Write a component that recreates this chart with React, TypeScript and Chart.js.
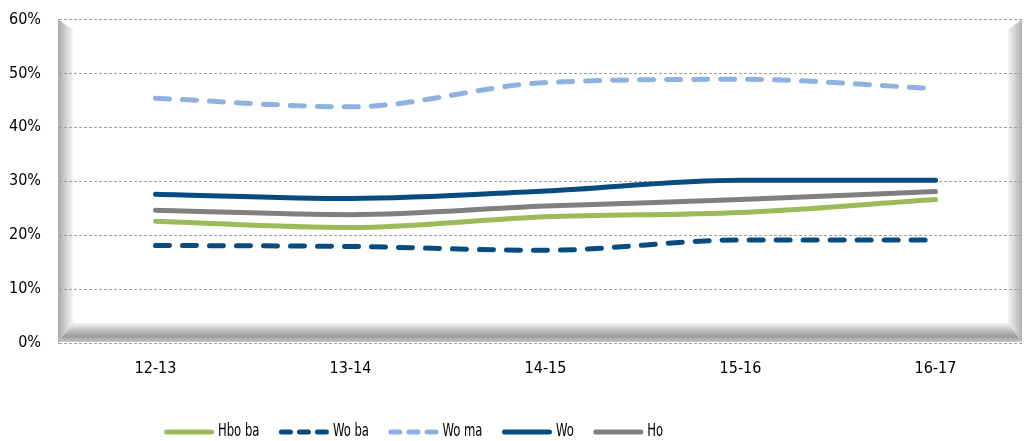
import React, { useEffect, useRef } from 'react';
import { Chart, registerables } from 'chart.js';

Chart.register(...registerables);

const categories = ['12-13', '13-14', '14-15', '15-16', '16-17'];
const hboBa = [22.6, 21.4, 23.4, 24.2, 26.6];
const woBa = [18.1, 17.9, 17.2, 19.1, 19.1];
const woMa = [45.4, 43.8, 48.3, 48.9, 47.2];
const wo = [27.6, 26.8, 28.2, 30.2, 30.2];
const ho = [24.6, 23.8, 25.4, 26.6, 28.1];
const yTicks = [0, 10, 20, 30, 40, 50, 60];
const seriesNames = ['Hbo ba', 'Wo ba', 'Wo ma', 'Wo', 'Ho'];

const AXIS_FONT = '"DejaVu Sans Condensed", "DejaVu Sans", sans-serif';
const LEGEND_FONT = '"DejaVu Sans Condensed", "DejaVu Sans", sans-serif';

const GREEN = '#9BBB59';
const DARK = '#064C80';
const LIGHT = '#8EB2DF';
const GRAY = '#7F7F7F';

const framePlugin = {
  id: 'frame',
  beforeDraw(chart: any) {
    const { ctx, chartArea } = chart;
    const x0 = chartArea.left;
    const x1 = chartArea.left + 964;
    const y0 = chartArea.top;
    const y1 = chartArea.bottom - 1;
    const bl = 15;
    const br = 14;
    const bb = 19;
    const bt = 10;
    ctx.save();
    let g = ctx.createLinearGradient(x0, 0, x0 + bl, 0);
    g.addColorStop(0, '#a9a9a9');
    g.addColorStop(0.35, '#c4c4c4');
    g.addColorStop(1, '#f4f4f4');
    ctx.fillStyle = g;
    ctx.beginPath();
    ctx.moveTo(x0, y0);
    ctx.lineTo(x0 + bl, y0 + bt);
    ctx.lineTo(x0 + bl, y1 - bb);
    ctx.lineTo(x0, y1);
    ctx.closePath();
    ctx.fill();
    g = ctx.createLinearGradient(x1 - br, 0, x1, 0);
    g.addColorStop(0, '#f4f4f4');
    g.addColorStop(0.65, '#c8c8c8');
    g.addColorStop(1, '#b0b0b0');
    ctx.fillStyle = g;
    ctx.beginPath();
    ctx.moveTo(x1, y0);
    ctx.lineTo(x1, y1);
    ctx.lineTo(x1 - br, y1 - bb);
    ctx.lineTo(x1 - br, y0 + bt);
    ctx.closePath();
    ctx.fill();
    g = ctx.createLinearGradient(0, y1 - bb, 0, y1);
    g.addColorStop(0, '#f6f6f6');
    g.addColorStop(0.45, '#b8b8b8');
    g.addColorStop(0.7, '#9c9c9c');
    g.addColorStop(1, '#c6c6c6');
    ctx.fillStyle = g;
    ctx.beginPath();
    ctx.moveTo(x0, y1);
    ctx.lineTo(x0 + bl, y1 - bb);
    ctx.lineTo(x1 - br, y1 - bb);
    ctx.lineTo(x1, y1);
    ctx.closePath();
    ctx.fill();
    ctx.restore();
  },
};

const legendPlugin = {
  id: 'customLegend',
  afterDraw(chart: any) {
    const { ctx } = chart;
    const y = 432;
    const sx = 0.76;
    let x = 164;
    ctx.save();
    ctx.font = '17px ' + LEGEND_FONT;
    ctx.textBaseline = 'middle';
    ctx.textAlign = 'left';
    chart.data.datasets.forEach((ds: any) => {
      ctx.strokeStyle = ds.borderColor;
      ctx.lineWidth = 5;
      ctx.lineCap = 'round';
      ctx.setLineDash(ds.borderDash && ds.borderDash.length ? [9, 9] : []);
      ctx.beginPath();
      ctx.moveTo(x + 2.5, y);
      ctx.lineTo(x + 47.5, y);
      ctx.stroke();
      ctx.setLineDash([]);
      ctx.fillStyle = '#000000';
      const tx = x + 54;
      ctx.save();
      ctx.translate(tx, y);
      ctx.scale(sx, 1);
      ctx.fillText(ds.label, 0, 0);
      ctx.restore();
      const w = ctx.measureText(ds.label).width * sx;
      x = tx + w + 19.5;
    });
    ctx.restore();
  },
};

export default function App() {
  const ref = useRef<HTMLCanvasElement | null>(null);

  useEffect(() => {
    if (!ref.current) return;
    const mk = (label: string, data: number[], color: string, dashed: boolean) => ({
      label,
      data,
      borderColor: color,
      backgroundColor: color,
      borderWidth: 5,
      borderDash: dashed ? [14, 13] : [],
      borderCapStyle: 'round',
      borderJoinStyle: 'round',
      pointRadius: 0,
      pointHoverRadius: 0,
      cubicInterpolationMode: 'monotone',
      fill: false,
    });
    const chart = new Chart(ref.current, {
      type: 'line',
      data: {
        labels: categories,
        datasets: [
          mk(seriesNames[0], hboBa, GREEN, false),
          mk(seriesNames[1], woBa, DARK, true),
          mk(seriesNames[2], woMa, LIGHT, true),
          mk(seriesNames[3], wo, DARK, false),
          mk(seriesNames[4], ho, GRAY, false),
        ] as any,
      },
      options: {
        animation: false,
        responsive: false,
        devicePixelRatio: 1,
        layout: { autoPadding: false, padding: { top: 19.5, right: 7, bottom: 58, left: 0 } },
        plugins: {
          legend: { display: false },
          tooltip: { enabled: false },
          title: { display: false },
        },
        scales: {
          x: {
            offset: true,
            grid: { display: false, drawTicks: false },
            border: { display: false },
            ticks: {
              color: '#000000',
              font: { family: AXIS_FONT, size: 16 },
              padding: 16,
              maxRotation: 0,
              autoSkip: false,
            },
            afterFit: (s: any) => {
              s.height = 40;
              s.paddingLeft = 0;
              s.paddingRight = 0;
              s.paddingTop = 0;
              s.paddingBottom = 0;
            },
          },
          y: {
            min: 0,
            max: 60,
            afterBuildTicks: (s: any) => {
              s.ticks = yTicks.map((v) => ({ value: v }));
            },
            grid: {
              color: '#a0a0a0',
              lineWidth: 1,
              drawTicks: false,
            },
            border: { display: true, color: '#b0b0b0', dash: [3, 2] },
            ticks: {
              color: '#000000',
              font: { family: AXIS_FONT, size: 16 },
              padding: 17,
              callback: (v: any) => v + '%',
            },
            afterFit: (s: any) => {
              s.width = 58;
              s.paddingTop = 0;
              s.paddingBottom = 0;
              s.paddingLeft = 0;
              s.paddingRight = 0;
            },
          },
        },
      } as any,
      plugins: [framePlugin, legendPlugin],
    });
    return () => chart.destroy();
  }, []);

  return (
    <div style={{ position: 'absolute', left: 0, top: 0, width: 1024, height: 441, overflow: 'hidden', background: '#ffffff' }}>
      <canvas ref={ref} width={1040} height={441} style={{ width: 1040, height: 441, display: 'block' }} />
    </div>
  );
}
